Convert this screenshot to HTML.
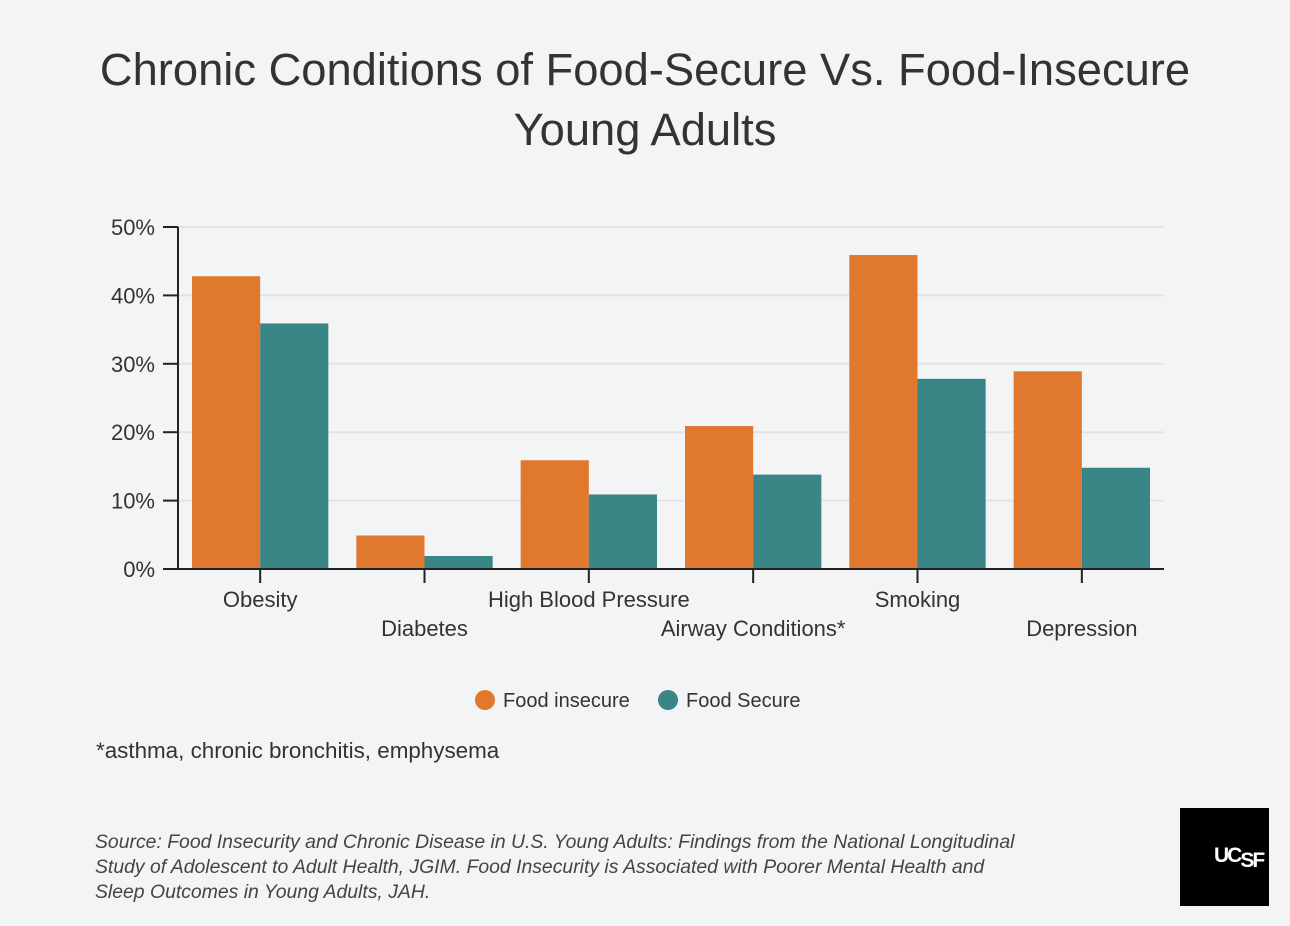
<!DOCTYPE html>
<html><head><meta charset="utf-8"><style>
body{margin:0;width:1290px;height:926px;background:#f3f4f6;font-family:"Liberation Sans",sans-serif;overflow:hidden;position:relative}
.t{position:absolute;white-space:nowrap}
</style></head><body>
<div class="t" style="left:0;width:1290px;text-align:center;top:40px;font-size:45.3px;line-height:60px;color:#333">Chronic Conditions of Food-Secure Vs. Food-Insecure<br>Young Adults</div>
<svg id="c" width="1290" height="926" style="position:absolute;left:0;top:0" font-family="Liberation Sans, sans-serif"></svg>
<div class="t" style="left:96px;top:738px;font-size:22.4px;color:#333">*asthma, chronic bronchitis, emphysema</div>
<div class="t" style="left:95px;top:830px;font-size:19.4px;line-height:25px;font-style:italic;color:#444">Source: Food Insecurity and Chronic Disease in U.S. Young Adults: Findings from the National Longitudinal<br>Study of Adolescent to Adult Health, JGIM. Food Insecurity is Associated with Poorer Mental Health and<br>Sleep Outcomes in Young Adults, JAH.</div>
<div style="position:absolute;left:1180px;top:808px;width:89px;height:98px;background:#000">
<span style="position:absolute;left:34px;top:36px;color:#fff;font-size:21px;font-weight:bold;letter-spacing:-2px">UC<span style="position:relative;top:5px">SF</span></span></div>
<script>
const categories=["Obesity","Diabetes","High Blood Pressure","Airway Conditions*","Smoking","Depression"];
const insecure=[42.8,4.9,15.9,20.9,45.9,28.9];
const secure=[35.9,1.9,10.9,13.8,27.8,14.8];
const ticks=[0,10,20,30,40,50];
const svg=document.getElementById('c');const NS='http://www.w3.org/2000/svg';
const x0=178,x1=1164,yb=569,yt=227;
const y=v=>yb-(v/50)*(yb-yt);
const band=(x1-x0)/categories.length;
function mk(t,a,p){const e=document.createElementNS(NS,t);for(const k in a)e.setAttribute(k,a[k]);(p||svg).appendChild(e);return e;}
ticks.forEach(t=>{
 if(t>0){const g=mk('line',{x1:x0,x2:x1,y1:y(t),y2:y(t),stroke:'#e2e3e6','stroke-width':2});}
 const tk=mk('line',{x1:163,x2:x0,y1:y(t),y2:y(t),stroke:'#222','stroke-width':2});
 const l=mk('text',{x:155,y:y(t)+8,'text-anchor':'end','font-size':22,fill:'#333'});l.textContent=t+'%';
});
categories.forEach((c,i)=>{
 const bx=x0+i*band+14,w=(band-28)/2;
 const r1=mk('rect',{x:bx,y:y(insecure[i]),width:w,height:yb-y(insecure[i]),fill:'#e0782e'});
 const r2=mk('rect',{x:bx+w,y:y(secure[i]),width:w,height:yb-y(secure[i]),fill:'#3a8585'});
 const cx=x0+(i+0.5)*band;
 const tk=mk('line',{x1:cx,x2:cx,y1:yb,y2:yb+14,stroke:'#222','stroke-width':2});
 const l=mk('text',{x:cx,y:i%2?636:607,'text-anchor':'middle','font-size':22,fill:'#333'});l.textContent=c;
});
const ax=mk('line',{x1:x0,x2:x0,y1:yt,y2:yb,stroke:'#222','stroke-width':2});
const bx=mk('line',{x1:x0,x2:x1,y1:yb,y2:yb,stroke:'#222','stroke-width':2});
[['Food insecure','#e0782e',485],['Food Secure','#3a8585',668]].forEach(([n,col,lx])=>{
 const d=mk('circle',{cx:lx,cy:700,r:10,fill:col});
 const t=mk('text',{x:lx+18,y:707,'font-size':20,fill:'#333'});t.textContent=n;
});
</script>
</body></html>
